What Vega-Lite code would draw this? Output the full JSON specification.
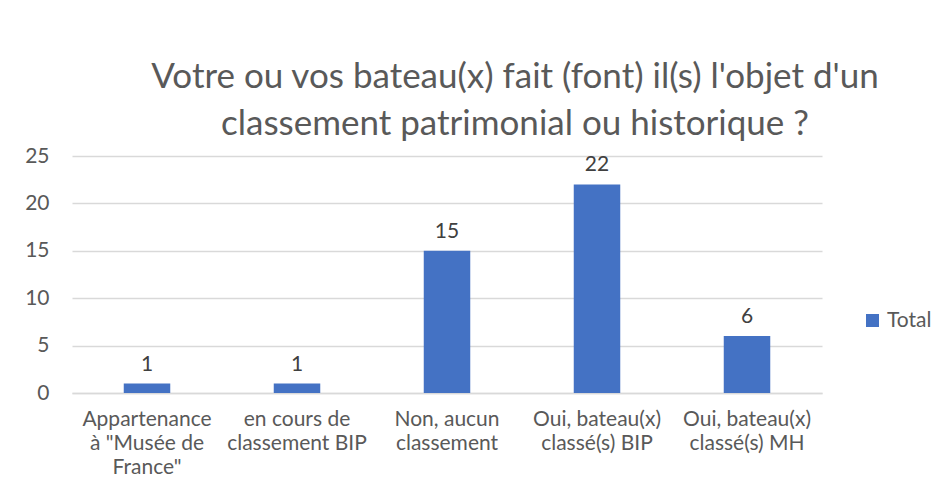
{
  "$schema": "https://vega.github.io/schema/vega-lite/v6.json",
  "autosize": {"type": "none"},
  "width": 750,
  "height": 237,
  "padding": {"left": 72, "top": 156, "right": 124, "bottom": 109},
  "background": "white",
  "title": {
    "text": ["Votre ou vos bateau(x) fait (font) il(s) l'objet d'un", "classement patrimonial ou historique ?"],
    "font": "Lato",
    "fontSize": 35,
    "fontWeight": "normal",
    "color": "#595959",
    "lineHeight": 47,
    "anchor": "middle",
    "dx": 68,
    "offset": 3
  },
  "data": {
    "values": [
      {"categorie": "Appartenance\nà \"Musée de\nFrance\"", "total": 1, "serie": "Total"},
      {"categorie": "en cours de\nclassement BIP", "total": 1, "serie": "Total"},
      {"categorie": "Non, aucun\nclassement", "total": 15, "serie": "Total"},
      {"categorie": "Oui, bateau(x)\nclassé(s) BIP", "total": 22, "serie": "Total"},
      {"categorie": "Oui, bateau(x)\nclassé(s) MH", "total": 6, "serie": "Total"}
    ]
  },
  "encoding": {
    "x": {
      "field": "categorie",
      "type": "nominal",
      "sort": null,
      "scale": {"paddingInner": 0.69, "paddingOuter": 0.345},
      "axis": {
        "title": null,
        "labelAngle": 0,
        "labelExpr": "split(datum.label, '\\n')",
        "labelFont": "Lato",
        "labelFontSize": 21,
        "labelLineHeight": 24,
        "labelColor": "#595959",
        "labelPadding": 15,
        "labelBaseline": "top",
        "ticks": false,
        "domainColor": "#d9d9d9",
        "domainWidth": 1.3,
        "labelLimit": 200
      }
    },
    "y": {
      "field": "total",
      "type": "quantitative",
      "scale": {"domain": [0, 25]},
      "axis": {
        "title": null,
        "values": [0, 5, 10, 15, 20, 25],
        "labelFont": "Lato",
        "labelFontSize": 21,
        "labelColor": "#595959",
        "labelPadding": 23,
        "ticks": false,
        "domain": false,
        "gridColor": "#d9d9d9",
        "gridWidth": 1.3
      }
    }
  },
  "layer": [
    {
      "mark": {"type": "bar", "color": "#4472C4"},
      "encoding": {
        "color": {
          "field": "serie",
          "type": "nominal",
          "scale": {"range": ["#4472C4"]},
          "legend": {
            "title": null,
            "orient": "none",
            "legendX": 790,
            "legendY": 154,
            "padding": 0,
            "symbolType": "square",
            "symbolSize": 169,
            "symbolStrokeWidth": 0,
            "labelFont": "Lato",
            "labelFontSize": 21,
            "labelColor": "#595959",
            "labelOffset": 4
          }
        }
      }
    },
    {
      "mark": {"type": "text", "baseline": "alphabetic", "dy": -13, "font": "Lato", "fontSize": 21, "color": "#404040"},
      "encoding": {"text": {"field": "total", "type": "quantitative"}}
    }
  ],
  "config": {"view": {"stroke": null}}
}
